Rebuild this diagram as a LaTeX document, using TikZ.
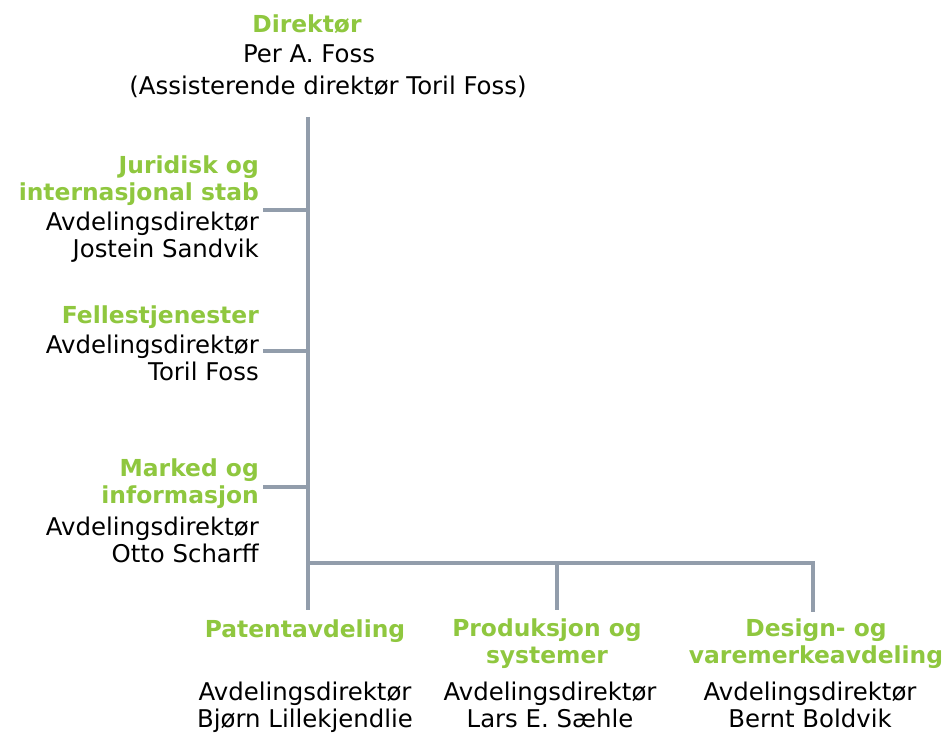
\documentclass[tikz,border=0pt]{standalone}
\usepackage{fontspec}
\setmainfont{DejaVu Sans}
\definecolor{unitgreen}{HTML}{8FC73F}
\definecolor{linegray}{HTML}{929DAB}
\tikzset{>=latex}
\tikzset{
	unitname/.style={text=unitgreen,font=\fontsize{23.4}{27}\selectfont\bfseries,inner sep=0pt},
	person/.style={font=\fontsize{24.4}{27}\selectfont,inner sep=0pt},
	branch/.style={linegray,line width=3.5pt}
}

\begin{document}
\begin{tikzpicture}[x=1pt,y=-1pt]
	\useasboundingbox (0,0) rectangle (945,733);

	% ledelse
	\node[unitname,anchor=base] (dir) at (307,33) {Direktør};
	\node[person,anchor=base] (per) at (309,63) {Per A. Foss};
	\node[person,anchor=base] (ass) at (328,95) {(Assisterende direktør Toril Foss)};

	% stab til venstre (base = siste linje)
	\node[unitname,anchor=base east,align=right] (jur) at (259,200) {Juridisk og\\internasjonal stab};
	\node[person,anchor=base east,align=right] (jurp) at (259,257) {Avdelingsdirektør\\Jostein Sandvik};
	\node[unitname,anchor=base east] (fel) at (259,323) {Fellestjenester};
	\node[person,anchor=base east,align=right] (felp) at (259,380) {Avdelingsdirektør\\Toril Foss};
	\node[unitname,anchor=base east,align=right] (mar) at (259,503) {Marked og\\informasjon};
	\node[person,anchor=base east,align=right] (marp) at (259,562) {Avdelingsdirektør\\Otto Scharff};

	% avdelinger nederst
	\node[unitname,anchor=base] (pat) at (305,637) {Patentavdeling};
	\node[person,anchor=base,align=center] (patp) at (305,727) {Avdelingsdirektør\\Bjørn Lillekjendlie};
	\node[unitname,anchor=base,align=center] (pro) at (547,663) {Produksjon og\\systemer};
	\node[person,anchor=base,align=center] (prop) at (550,727) {Avdelingsdirektør\\Lars E. Sæhle};
	\node[unitname,anchor=base,align=center] (des) at (816,663) {Design- og\\varemerkeavdeling};
	\node[person,anchor=base,align=center] (desp) at (810,727) {Avdelingsdirektør\\Bernt Boldvik};

	% linjer
	\coordinate (top) at (308,117);
	\coordinate (bar) at (308,563);
	\coordinate (bj) at (308,210);
	\coordinate (bf) at (308,351);
	\coordinate (bm) at (308,487);
	\draw[branch] (top)--(bar)--([yshift=9pt]pat.north -| bar);
	\draw[branch] (bar)--(813,563)--(813,612);
	\draw[branch] (bar -| 557,0)--(557,610);
	\draw[branch] ([xshift=4pt]jur.east |- bj)--(bj);
	\draw[branch] ([xshift=4pt]felp.east |- bf)--(bf);
	\draw[branch] ([xshift=4pt]mar.east |- bm)--(bm);

\end{tikzpicture}
\end{document}
